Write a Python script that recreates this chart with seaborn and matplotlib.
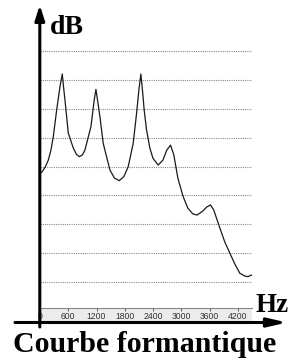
import numpy as np
import pandas as pd
import matplotlib
matplotlib.use("Agg")
import matplotlib.pyplot as plt
import seaborn as sns

# Data
freq_hz = [0, 42, 110, 176, 230, 282, 354, 424, 473, 500, 530, 600, 706, 770, 833, 900, 954,
           1081, 1151, 1187, 1230, 1272, 1342, 1484, 1580, 1681, 1780, 1872, 1978, 2050,
           2099, 2141, 2180, 2211, 2262, 2332, 2396, 2508, 2608, 2692, 2771, 2841, 2926,
           3038, 3138, 3244, 3335, 3456, 3540, 3619, 3689, 3795, 3922, 4028, 4134, 4240,
           4346, 4416, 4494]
level_db = [47.8, 48.1, 49.8, 52.2, 55.5, 60.3, 69.6, 77.6, 82.0, 77.5, 73.0, 61.6, 56.4,
            54.3, 53.4, 54.0, 55.7, 63.8, 73.0, 76.7, 72.0, 67.2, 58.0, 48.8, 46.0, 45.1,
            46.5, 49.9, 58.0, 68.4, 76.5, 82.0, 75.5, 69.6, 62.6, 56.4, 52.9, 50.5, 52.2,
            55.7, 57.4, 54.0, 46.0, 39.6, 35.6, 33.6, 33.2, 34.6, 36.0, 36.7, 34.9, 29.8,
            23.9, 20.1, 16.3, 13.1, 12.1, 11.9, 12.5]
x_ticks = [0, 600, 1200, 1800, 2400, 3000, 3600, 4200]
grid_db = [10, 20, 30, 40, 50, 60, 70, 80, 90]
y_label = "dB"
x_label = "Hz"
title = "Courbe formantique"

df = pd.DataFrame({"Hz": freq_hz, "dB": level_db})

sns.set_theme(style="white")
plt.rcParams["font.family"] = ["Liberation Sans", "DejaVu Sans"]

W, H = 290, 361
fig = plt.figure(figsize=(W / 100, H / 100), dpi=100)
fig.patch.set_facecolor("white")

def box(l, r, t, b):
    return [l / W, (H - b) / H, (r - l) / W, (b - t) / H]

# main plot
ax = fig.add_axes(box(40, 252, 36.45, 308))
sns.lineplot(data=df, x="Hz", y="dB", ax=ax, color="#1a1a1a", lw=0.9)
ax.set_xlim(0, 4500)
ax.set_ylim(1.04, 95)
ax.set_yticks(grid_db)
ax.set_xticks([])
ax.tick_params(left=False, labelleft=False)
ax.yaxis.grid(True, color="#8a8a8a", lw=0.8, linestyle=(0, (1, 1)))
ax.set_axisbelow(True)
for s in ax.spines.values():
    s.set_visible(False)
ax.set_xlabel("")
ax.set_ylabel("")
ax.patch.set_alpha(0)

# tick strip
axs = fig.add_axes(box(40, 252, 308, 322))
axs.set_facecolor("#ececec")
axs.set_xlim(0, 4500)
axs.set_ylim(0, 1)
axs.set_yticks([])
axs.set_xticks(x_ticks)
axs.set_xticklabels([str(t) for t in x_ticks])
axs.tick_params(axis="x", top=True, bottom=False, labelbottom=True, labeltop=False,
                direction="in", length=2.5, width=0.7, color="#555555",
                labelsize=6.2, labelcolor="#333333", pad=-7.2)
for k, s in axs.spines.items():
    s.set_visible(k == "top")
axs.spines["top"].set_color("#888888")
axs.spines["top"].set_linewidth(0.8)

# overlay for axis arrows and text
ov = fig.add_axes([0, 0, 1, 1])
ov.set_xlim(0, W)
ov.set_ylim(H, 0)
ov.axis("off")
ov.patch.set_alpha(0)
ov.annotate("", xy=(39.8, 5), xytext=(39.8, 327),
            arrowprops=dict(arrowstyle="-|>,head_length=0.75,head_width=0.24",
                            lw=2.2, color="black", shrinkA=0, shrinkB=0))
ov.annotate("", xy=(287, 322.5), xytext=(15, 322.5),
            arrowprops=dict(arrowstyle="-|>,head_length=0.95,head_width=0.22",
                            lw=2.2, color="black", shrinkA=0, shrinkB=0))
ov.text(50, 33.5, y_label, fontsize=20, fontweight="bold", family="Liberation Serif",
        ha="left", va="baseline", color="black")
ov.text(255, 312, x_label, fontsize=19.5, fontweight="bold", family="Liberation Serif",
        ha="left", va="baseline", color="black")
ov.text(145, 352, title, fontsize=21.5, fontweight="bold", family="Liberation Serif",
        ha="center", va="baseline", color="black")

fig.savefig("out.png", dpi=100)
